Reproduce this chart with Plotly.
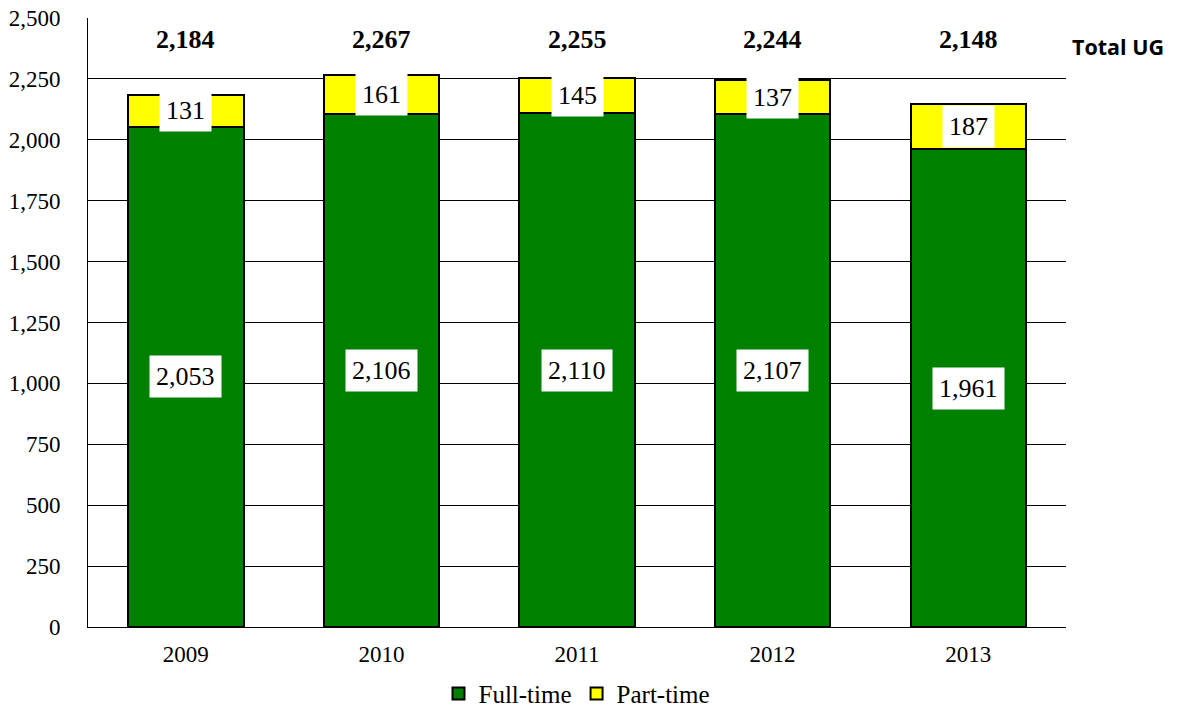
import plotly.graph_objects as go

years = ["2009", "2010", "2011", "2012", "2013"]
full_time = [2053, 2106, 2110, 2107, 1961]
part_time = [131, 161, 145, 137, 187]
totals = [2184, 2267, 2255, 2244, 2148]
y_ticks = [0, 250, 500, 750, 1000, 1250, 1500, 1750, 2000, 2250, 2500]

serif = "Liberation Serif, Times New Roman, serif"

fig = go.Figure()
fig.add_trace(go.Bar(x=years, y=full_time, name="Full-time", marker=dict(color="#008000", line=dict(color="black", width=2)), width=0.59))
fig.add_trace(go.Bar(x=years, y=part_time, name="Part-time", marker=dict(color="#FFFF00", line=dict(color="black", width=2)), width=0.59))

ann = []
for i, yr in enumerate(years):
    ann.append(dict(x=i, y=full_time[i] / 2, text=f"{full_time[i]:,}", showarrow=False,
                    bgcolor="white", font=dict(family=serif, size=26, color="black"), borderpad=6))
    ann.append(dict(x=i, y=full_time[i] + part_time[i] / 2, text=f"{part_time[i]:,}", showarrow=False,
                    bgcolor="white", font=dict(family=serif, size=26, color="black"), borderpad=6))
    ann.append(dict(x=i, y=2410, text=f"<b>{totals[i]:,}</b>", showarrow=False,
                    font=dict(family=serif, size=26, color="black")))
ann.append(dict(xref="paper", x=1.0, xanchor="left", xshift=4, y=2383, text="<b>Total UG</b>", showarrow=False,
                font=dict(family="Open Sans, Liberation Sans, sans-serif", size=21.5, color="black")))

fig.update_layout(
    barmode="stack",
    width=1179, height=717,
    margin=dict(l=88, r=113, t=18, b=90, autoexpand=False),
    plot_bgcolor="white", paper_bgcolor="white",
    font=dict(family=serif, size=24, color="black"),
    annotations=ann,
    legend=dict(orientation="h", x=0.5, xanchor="center", y=-0.072, yanchor="top",
                font=dict(family=serif, size=25, color="black"), itemwidth=30, traceorder="normal"),
    xaxis=dict(type="category", range=[-0.5, 4.5], showline=True, linecolor="black", linewidth=1, ticks="",
               tickfont=dict(family=serif, size=23), ticklabelstandoff=6),
    yaxis=dict(range=[0, 2500], tickvals=y_ticks, ticktext=[f"{v:,}" for v in y_ticks], automargin=False,
               showline=True, linecolor="black", linewidth=1, showgrid=True, gridcolor="black", gridwidth=1,
               tickfont=dict(family=serif, size=23), ticks="", ticklabelstandoff=22, zeroline=False),
)
fig.write_html("out.html", config={"displayModeBar": False},
               post_script="document.body.style.margin='0px';document.body.style.overflow='hidden';")
